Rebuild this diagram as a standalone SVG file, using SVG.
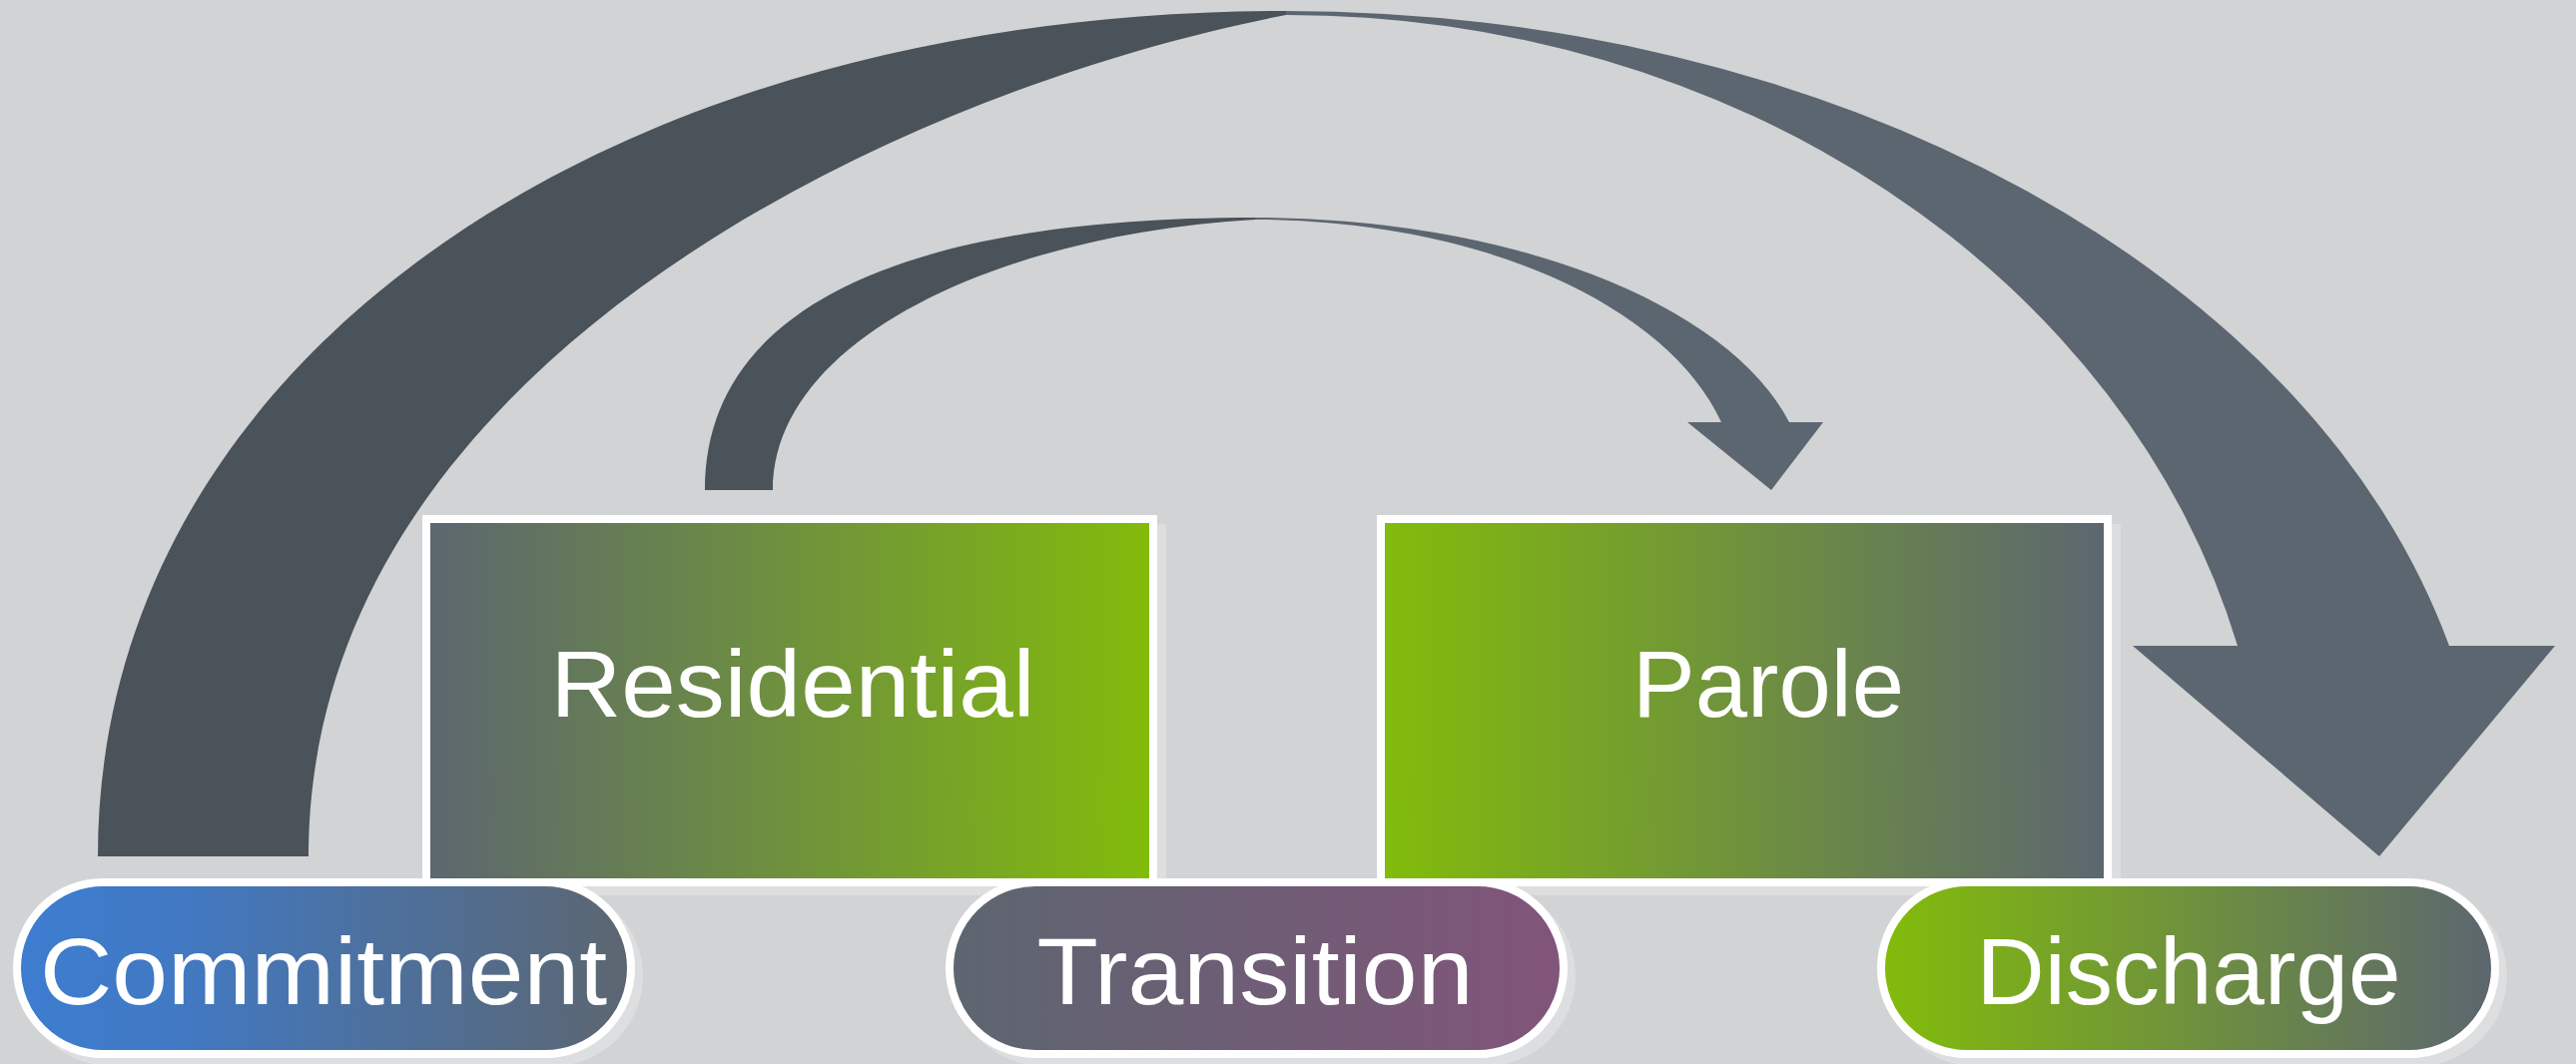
<svg xmlns="http://www.w3.org/2000/svg" width="2580" height="1066" viewBox="0 0 2580 1066">
<defs>
<linearGradient id="gCommit" x1="0" y1="0" x2="1" y2="0"><stop offset="0" stop-color="#3d7dd0"/><stop offset="0.25" stop-color="#4179c4"/><stop offset="1" stop-color="#5c6670"/></linearGradient>
<linearGradient id="gTrans" x1="0" y1="0" x2="1" y2="0"><stop offset="0" stop-color="#5c6670"/><stop offset="1" stop-color="#82547a"/></linearGradient>
<linearGradient id="gGreenGray" x1="0" y1="0" x2="1" y2="0"><stop offset="0" stop-color="#82bc0a"/><stop offset="1" stop-color="#5c6670"/></linearGradient>
<linearGradient id="gGrayGreen" x1="0" y1="0" x2="1" y2="0"><stop offset="0" stop-color="#5c6670"/><stop offset="1" stop-color="#82bc0a"/></linearGradient>
</defs>
<style>
.shadow{fill:#dddee0}
.box{stroke:#ffffff;stroke-width:8}
.lbl{fill:#ffffff;font-family:"Liberation Sans",Arial,sans-serif;font-size:95px;text-anchor:middle}
.dark{fill:#4a525a}
.light{fill:#5c6670}
</style>
<rect width="2580" height="1066" fill="#d1d3d4"/>
<g id="connectors">
<g id="arrow-commitment-discharge">
<path class="dark" d="M98,858 C98,367 598,11 1288,11 L1288,15 C900,90 309,365 309,858 Z"/>
<path class="light" d="M1288,11 A1203 847 0 0 1 2453,647 L2559,647 L2383,858 L2136,647 L2241,647 A984 843 0 0 0 1288,15 Z"/>
</g>
<g id="arrow-residential-parole">
<path class="dark" d="M706,491 C706,310 900,218 1257,218 L1257,220 C1000,235 774,340 774,491 Z"/>
<path class="light" d="M1257,218 A553 273 0 0 1 1792,423 L1826,423 L1774,491 L1690,423 L1724,423 A482 271 0 0 0 1257,220 Z"/>
</g>
</g>
<g id="residential">
<rect class="shadow" x="432" y="525" width="736" height="372"/>
<rect class="box" x="427" y="520" width="728" height="364" fill="url(#gGrayGreen)"/>
<text class="lbl" x="794" y="718" textLength="485" lengthAdjust="spacingAndGlyphs">Residential</text>
</g>
<g id="parole">
<rect class="shadow" x="1388" y="525" width="736" height="372"/>
<rect class="box" x="1383" y="520" width="728" height="364" fill="url(#gGreenGray)"/>
<text class="lbl" x="1771" y="718" textLength="272" lengthAdjust="spacingAndGlyphs">Parole</text>
</g>
<g id="commitment">
<rect class="shadow" x="21" y="888" width="623" height="180" rx="90"/>
<rect class="box" x="17" y="884" width="615" height="172" rx="86" fill="url(#gCommit)"/>
<text class="lbl" x="324" y="1006" textLength="568" lengthAdjust="spacingAndGlyphs">Commitment</text>
</g>
<g id="transition">
<rect class="shadow" x="955" y="888" width="623" height="180" rx="90"/>
<rect class="box" x="951" y="884" width="615" height="172" rx="86" fill="url(#gTrans)"/>
<text class="lbl" x="1257" y="1006" textLength="437" lengthAdjust="spacingAndGlyphs">Transition</text>
</g>
<g id="discharge">
<rect class="shadow" x="1888" y="888" width="623" height="180" rx="90"/>
<rect class="box" x="1884" y="884" width="615" height="172" rx="86" fill="url(#gGreenGray)"/>
<text class="lbl" x="2192" y="1006" textLength="425" lengthAdjust="spacingAndGlyphs">Discharge</text>
</g>
</svg>
